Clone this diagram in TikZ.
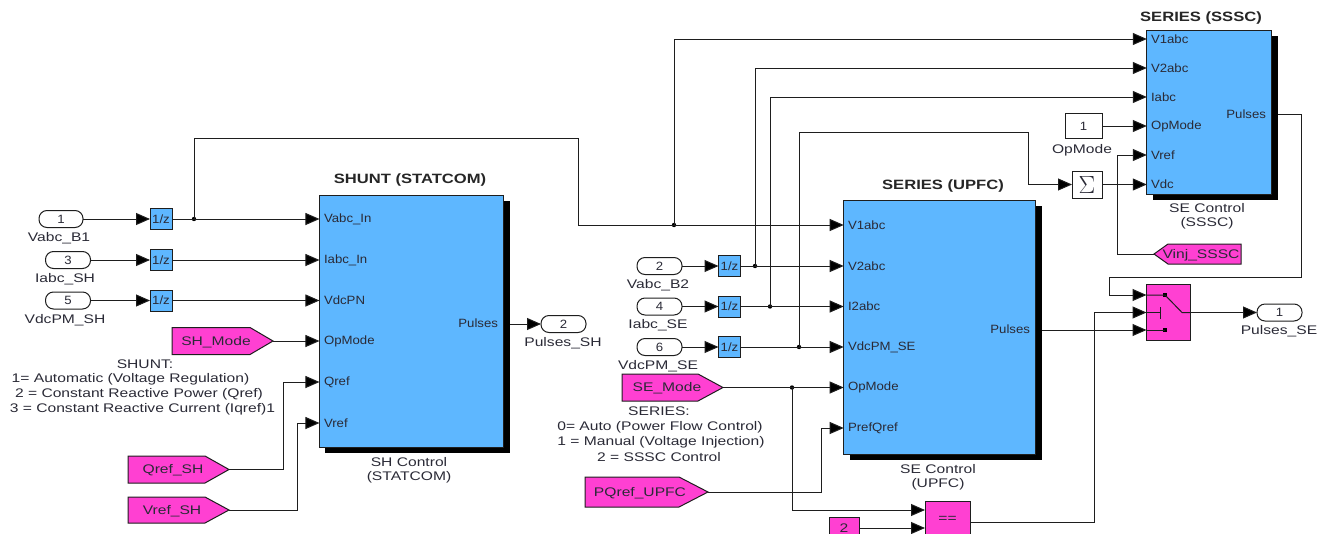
\documentclass[tikz,border=0pt]{standalone}
\usepackage{fontspec}
\setmainfont{Liberation Sans}
\newfontfamily\widefont[FakeStretch=1.25]{Liberation Sans}
\newfontfamily\portfont[FakeStretch=1.1]{Liberation Sans}
\newfontfamily\titlefont[FakeStretch=1.23]{Liberation Sans Bold}
\usetikzlibrary{arrows.meta,shadows,calc}
\definecolor{blockblue}{HTML}{5EB7FF}
\definecolor{blockpink}{HTML}{FF40D2}
\definecolor{inktext}{HTML}{2A2A36}
\definecolor{wirecol}{HTML}{1E1E1E}
\tikzset{
  wire/.style={draw=wirecol,line width=1pt},
  conn/.style={wire,-{Triangle[length=14pt,width=12pt,fill=black]}},
  lbl/.style={font=\widefont\fontsize{12.5}{14.5}\selectfont,text=inktext,inner sep=0,outer sep=0,align=center,yshift=-1pt},
  titlelbl/.style={font=\titlefont\fontsize{13.5}{15}\selectfont,text=black!85,inner sep=0,outer sep=0,yshift=-1.5pt},
  portlbl/.style={font=\portfont\fontsize{12}{14}\selectfont,text=inktext,inner sep=0,outer sep=0,anchor=west},
  pulselbl/.style={font=\portfont\fontsize{12}{14}\selectfont,text=inktext,inner sep=0,outer sep=0,anchor=east},
  subsys/.style={draw=wirecol,line width=1pt,fill=blockblue,inner sep=0,outer sep=0,
     general shadow={fill=black,shadow xshift=6pt,shadow yshift=-5.5pt}},
  delaybox/.style={draw=wirecol,line width=1pt,fill=blockblue,minimum width=22pt,minimum height=21pt,
     inner sep=0,outer sep=0,font=\portfont\fontsize{12}{14}\selectfont,text=inktext},
  pinkbox/.style={draw=wirecol,line width=1pt,fill=blockpink,inner sep=0,outer sep=0,
     font=\widefont\fontsize{12.5}{14}\selectfont,text=inktext},
  whitebox/.style={draw=wirecol,line width=1pt,fill=white,inner sep=0,outer sep=0,font=\portfont\fontsize{12}{14}\selectfont,text=inktext},
  portpill/.style={draw=wirecol,line width=1pt,fill=white,rounded corners=8pt,minimum width=45pt,minimum height=17pt,
     inner sep=0,outer sep=0,font=\portfont\fontsize{12}{14}\selectfont,text=inktext},
  jdot/.style={circle,fill=black,minimum size=4.4pt,inner sep=0,outer sep=0},
  sdot/.style={rectangle,fill=black,minimum size=3.6pt,inner sep=0,outer sep=0},
  tagpoly/.style={draw=wirecol,line width=1pt,fill=blockpink,line join=miter},
}
% right-pointing tag: name, left, shoulder, tip, top, bottom, text centre x, text
\newcommand{\fromtag}[8]{%
  \draw[tagpoly] (#2,#5) -- (#3,#5) -- (#4,{(#5+#6)/2}) -- (#3,#6) -- (#2,#6) -- cycle;
  \coordinate (#1) at (#4,{(#5+#6)/2});
  \node[lbl] (#1t) at (#7,{(#5+#6)/2}) {#8};
}
\begin{document}
\begin{tikzpicture}[x=1pt,y=-1pt]
\useasboundingbox (0,0) rectangle (1325,533);
\begin{scope}
\clip (0,0) rectangle (1325,533);

% --- subsystem blocks
\node[subsys,minimum width=184.5pt,minimum height=252pt] (sh) at (411.7,321) {};
\node[subsys,minimum width=192pt,minimum height=254pt] (upfc) at (939.7,327) {};
\node[subsys,minimum width=125pt,minimum height=164pt] (sssc) at (1209.3,112) {};

\node[titlelbl] (shT) at (410,179) {SHUNT (STATCOM)};
\node[titlelbl] (upT) at (943,185) {SERIES (UPFC)};
\node[titlelbl] (ssT) at (1201,16.5) {SERIES (SSSC)};
\node[lbl] (shC) at (409,469.5) {SH Control\\(STATCOM)};
\node[lbl] (upC) at (938,476.5) {SE Control\\(UPFC)};
\node[lbl] (ssC) at (1207,215.5) {SE Control\\(SSSC)};

% --- port names
\foreach \n/\y/\t in {a/219/Vabc\_In,b/260/Iabc\_In,c/300.5/VdcPN,d/341/OpMode,e/382/Qref,f/423/Vref}{
  \node[portlbl] (sh\n) at (324,\y) {\t};}
\foreach \n/\y/\t in {a/225/V1abc,b/266/V2abc,c/306.5/I2abc,d/347/VdcPM\_SE,e/387.5/OpMode,f/428/PrefQref}{
  \node[portlbl] (up\n) at (848,\y) {\t};}
\foreach \n/\y/\t in {a/39/V1abc,b/68/V2abc,c/97/Iabc,d/126/OpMode,e/155/Vref,f/184.5/Vdc}{
  \node[portlbl] (ss\n) at (1151,\y) {\t};}
\node[pulselbl] (shP) at (498,323) {Pulses};
\node[pulselbl] (upP) at (1030,329) {Pulses};
\node[pulselbl] (ssP) at (1266,114) {Pulses};

% --- left inports and delays
\node[portpill,minimum width=44pt] (in1) at (61,219) {1};
\node[portpill] (in3) at (68,260) {3};
\node[portpill] (in5) at (68,300.5) {5};
\node[lbl] (in1L) at (59,237) {Vabc\_B1};
\node[lbl] (in3L) at (65,278) {Iabc\_SH};
\node[lbl] (in5L) at (65,319) {VdcPM\_SH};
\node[delaybox] (d1) at (161,219) {1/z};
\node[delaybox] (d3) at (161,260) {1/z};
\node[delaybox] (d5) at (161,300.5) {1/z};

% --- middle inports and delays
\node[portpill] (in2) at (659.5,266) {2};
\node[portpill] (in4) at (659.5,306.5) {4};
\node[portpill] (in6) at (659.5,347) {6};
\node[lbl] (in2L) at (658,284) {Vabc\_B2};
\node[lbl] (in4L) at (658,324.5) {Iabc\_SE};
\node[lbl] (in6L) at (658,365) {VdcPM\_SE};
\node[delaybox] (d2) at (729.5,266) {1/z};
\node[delaybox] (d4) at (729.5,306.5) {1/z};
\node[delaybox] (d6) at (729.5,347) {1/z};

% --- tags
\fromtag{shmode}{172}{250}{273}{327.5}{354.5}{216}{SH\_Mode}
\fromtag{qrefsh}{128}{205}{229}{456}{483}{173}{Qref\_SH}
\fromtag{vrefsh}{128}{205}{229}{497}{523}{172}{Vref\_SH}
\fromtag{semode}{622}{698}{723}{374}{401}{667}{SE\_Mode}
\fromtag{pqref}{585}{679}{708}{477}{507}{640}{PQref\_UPFC}
\draw[tagpoly] (1241,244) -- (1168,244) -- (1154,254) -- (1168,264) -- (1241,264) -- cycle;
\coordinate (vinj) at (1154,254);
\node[lbl] (vinjT) at (1201,254) {Vinj\_SSSC};

% --- annotations
\node[lbl] (shnote0) at (145,363) {SHUNT:};
\node[lbl] (shnote1) at (130.5,378) {1= Automatic (Voltage Regulation)};
\node[lbl] (shnote2) at (139,393) {2 = Constant Reactive Power (Qref)};
\node[lbl] (shnote3) at (142.5,408) {3 = Constant Reactive Current (Iqref)1};
\node[lbl] (senote0) at (659,410) {SERIES:};
\node[lbl] (senote1) at (660,426) {0= Auto (Power Flow Control)};
\node[lbl] (senote2) at (661,441) {1 = Manual (Voltage Injection)};
\node[lbl] (senote3) at (659,456) {2 = SSSC Control};

% --- outports
\node[portpill] (outsh) at (563.5,324) {2};
\node[lbl] (outshL) at (563,342) {Pulses\_SH};
\node[portpill] (outse) at (1279.5,312.5) {1};
\node[lbl] (outseL) at (1279,330.5) {Pulses\_SE};

% --- small blocks
\node[whitebox,minimum width=37pt,minimum height=25pt] (opm) at (1083.5,126) {1};
\node[lbl] (opmL) at (1082,149) {OpMode};
\node[whitebox,minimum width=30pt,minimum height=27pt] (sum) at (1087,184.5) {\fontsize{27}{27}\selectfont$\Sigma$};
\node[pinkbox,minimum width=44pt,minimum height=56.5pt] (sw) at (1168.5,312.5) {};
\node[pinkbox,minimum width=45pt,minimum height=36pt] (eq) at (947.5,519) {==};
\node[pinkbox,minimum width=30pt,minimum height=22pt] (two) at (844,528) {2};

% --- junctions
\node[jdot] (j1) at (194,219) {};
\node[jdot] (j2) at (674,225) {};
\node[jdot] (j3) at (755,266) {};
\node[jdot] (j4) at (770,306.5) {};
\node[jdot] (j5) at (799,347) {};
\node[jdot] (j6) at (792,387.5) {};

% --- connector bends on free ends
\coordinate (swI1) at (1146.5,295);
\coordinate (swI2) at (1146.5,312.5);
\coordinate (swI3) at (1146.5,330);
\coordinate (eqI1) at (925,510);
\coordinate (eqI2) at (925,528);

% --- wires, left part
\draw[conn] (in1.east) -- (d1.west);
\draw[conn] (in3.east) -- (d3.west);
\draw[conn] (in5.east) -- (d5.west);
\draw[conn] (d1.east) -- (sh.west |- sha);
\draw[conn] (d3.east) -- (sh.west |- shb);
\draw[conn] (d5.east) -- (sh.west |- shc);
\draw[conn] (shmode) -- (sh.west |- shd);
\draw[conn] (qrefsh) -- (283,469.5) |- (sh.west |- she);
\draw[conn] (vrefsh) -- (297,510) |- (sh.west |- shf);
\draw[conn] (510,324) -- (outsh.west);

% --- wires, middle part
\draw[conn] (j1.center) -- (194,138) -- (578,138) |- (upfc.west |- upa);
\draw[conn] (j2.center) |- (sssc.west |- ssa);
\draw[conn] (in2.east) -- (d2.west);
\draw[conn] (in4.east) -- (d4.west);
\draw[conn] (in6.east) -- (d6.west);
\draw[conn] (d2.east) -- (upfc.west |- upb);
\draw[conn] (d4.east) -- (upfc.west |- upc);
\draw[conn] (d6.east) -- (upfc.west |- upd);
\draw[conn] (j3.center) |- (sssc.west |- ssb);
\draw[conn] (j4.center) |- (sssc.west |- ssc);
\draw[conn] (j5.center) -- (799,132) -- (1028,132) |- (sum.west);
\draw[conn] (semode) -- (upfc.west |- upe);
\draw[conn] (pqref) -- (821,492) |- (upfc.west |- upf);
\draw[conn] (j6.center) |- (eqI1);
\draw[conn] (two.east |- eqI2) -- (eqI2);

% --- wires, right part
\draw[conn] (opm.east) -- (sssc.west |- ssd);
\draw[conn] (sum.east) -- (sssc.west |- ssf);
\draw[conn] (vinj) -- (1117,254) |- (sssc.west |- sse);
\draw[conn] (1278,114.5) -- (1301.5,114.5) -- (1301.5,277) -- (1109,277) |- (swI1);
\draw[conn] (eq.east |- 0,522) -- (1094,522) |- (swI2);
\draw[conn] (1042,330) -- (swI3);
\draw[conn] (sw.east) -- (outse.west);

% --- switch symbol
\node[sdot] (swa) at (1165,295) {};
\node[sdot] (swc) at (1165,330) {};
\coordinate (swm) at (1182,312.5);
\draw[wire] (swI1) -- (swa.center) -- (swm) -- (sw.east);
\draw[wire] (swI2) -- (1160,312.5);
\draw[wire] (1160,307) -- (1160,319);
\draw[wire] (swI3) -- (swc.center);
\end{scope}
\end{tikzpicture}
\end{document}
